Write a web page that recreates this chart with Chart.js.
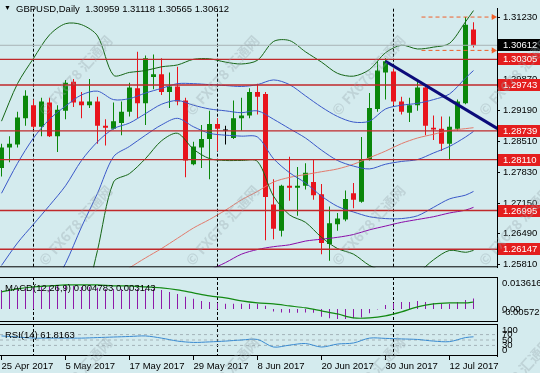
<!DOCTYPE html>
<html>
<head>
<meta charset="utf-8">
<script src="https://cdn.jsdelivr.net/npm/chart.js@4.4.1/dist/chart.umd.min.js"></script>
<style>
  html, body { margin: 0; padding: 0; background: #d4ebee; }
  #wrap { position: relative; width: 540px; height: 373px; overflow: hidden; background: #d4ebee;
          font-family: "Liberation Sans", Arial, sans-serif; }
  canvas { position: absolute; left: 0; }
  .ttl { position: absolute; font-size: 9.5px; line-height: 11px; color: #000; white-space: pre; }
  .wm  { position: absolute; font-family: "Noto Sans CJK SC", sans-serif; font-weight: bold; font-size: 14px;
         color: rgba(150,165,170,0.33); white-space: pre; pointer-events: none;
         transform: translate(-50%, -50%) rotate(-48deg); }
</style>
</head>
<body>
<div id="wrap">
  <canvas id="cMain" width="540" height="276" style="top:0"></canvas>
  <canvas id="cMacd" width="540" height="45" style="top:277px"></canvas>
  <canvas id="cRsi" width="540" height="49" style="top:324px"></canvas>
  <div class="ttl" style="left:4px;top:2px;font-size:7px">▼</div>
  <div class="ttl" style="left:16px;top:2.5px">GBPUSD,Daily  1.30959 1.31118 1.30565 1.30612</div>
  <div class="ttl" style="left:5px;top:281.5px">MACD(12,26,9) 0.004783 0.003143</div>
  <div class="ttl" style="left:5px;top:329px">RSI(14) 61.8163</div>
</div>
<script>
// ─── Velas diarias (índice de barra 0 = 25 Apr 2017) ─────────
const opens  = [1.27926,1.28377,1.28439,1.29013,1.29300,1.28828,1.29362,1.28623,1.29177,1.29813,
                1.29382,1.29300,1.29382,1.28849,1.28787,1.28910,1.29157,1.29669,1.29341,1.29916,
                1.29977,1.29587,1.29710,1.29403,1.28008,1.28377,1.28562,1.28890,1.28746,1.28582,
                1.29013,1.29075,1.29587,1.29546,1.27126,1.26551,1.27536,1.27495,1.27536,1.27618,
                1.27351,1.26264,1.26695,1.26798,1.27372,1.27187,1.28110,1.29218,1.30018,1.30039,
                1.29382,1.29136,1.29300,1.29690,1.28808,1.28787,1.28459,1.28787,1.29341,1.30959];
const highs  = [1.28459,1.28623,1.29157,1.29628,1.29423,1.29464,1.29464,1.29300,1.29854,1.29875,
                1.29587,1.29875,1.29485,1.28993,1.29362,1.29382,1.29793,1.30469,1.30387,1.30408,
                1.30326,1.30018,1.30141,1.29464,1.28500,1.28869,1.29177,1.29013,1.28849,1.29403,
                1.29464,1.29669,1.29772,1.29587,1.27680,1.27557,1.28172,1.27946,1.28028,1.28110,
                1.27577,1.27085,1.26941,1.27434,1.27598,1.28603,1.29567,1.30264,1.30326,1.30100,
                1.29485,1.29464,1.29834,1.29731,1.29075,1.29054,1.29054,1.29423,1.31230,1.31118];
const lows   = [1.27741,1.28049,1.28377,1.28849,1.28787,1.28623,1.28603,1.28275,1.28993,1.29259,
                1.29013,1.29239,1.28459,1.28418,1.28767,1.28644,1.29054,1.29013,1.28869,1.29649,
                1.29526,1.29239,1.29300,1.27721,1.27987,1.27926,1.27680,1.28295,1.28439,1.28562,
                1.28746,1.29013,1.29095,1.26346,1.26367,1.26428,1.27208,1.26880,1.27454,1.27228,
                1.26039,1.25895,1.26551,1.26757,1.27044,1.27167,1.28090,1.29157,1.29423,1.29300,
                1.29095,1.28931,1.29177,1.28644,1.28541,1.28295,1.28110,1.28746,1.29321,1.30565];
const closes = [1.28377,1.28459,1.29033,1.29505,1.28828,1.29382,1.28623,1.29198,1.29793,1.29362,
                1.29300,1.29382,1.28849,1.28808,1.28951,1.29157,1.29690,1.29341,1.30326,1.29977,
                1.29587,1.29710,1.29382,1.28090,1.28398,1.28562,1.28890,1.28787,1.28746,1.29013,
                1.29075,1.29587,1.29485,1.27290,1.26593,1.27536,1.27495,1.27536,1.27823,1.27331,
                1.26285,1.26716,1.26818,1.27249,1.27228,1.28110,1.29239,1.30059,1.30264,1.29382,
                1.29157,1.29300,1.29690,1.28849,1.28767,1.28459,1.28828,1.29382,1.31064,1.30612];

// ─── Indicadores (leídos cada 2 barras) ──────────────────────
const lineIdx = [0,2,4,6,8,10,12,14,16,18,20,22,24,26,28,30,32,34,36,38,40,42,44,46,48,50,52,54,56,58,59];
const bbUp2 = [1.28951,1.29772,1.30326,1.30839,1.31085,1.31064,1.30818,1.29957,1.30018,1.30059,1.30141,
               1.30182,1.30305,1.30316,1.30244,1.30203,1.30285,1.30695,1.30716,1.30469,1.30244,1.29998,
               1.29936,1.30080,1.30449,1.30613,1.30531,1.30572,1.30654,1.31126,1.31372];
const bbUp1 = [1.27372,1.28028,1.28582,1.28993,1.29280,1.29526,1.29608,1.29423,1.29444,1.29567,1.29669,
               1.29772,1.29772,1.29751,1.29731,1.29710,1.29751,1.29854,1.29751,1.29505,1.29259,1.29054,
               1.28931,1.28951,1.29218,1.29300,1.29341,1.29423,1.29546,1.29895,1.30059];
const bbMid = [1.25792,1.26285,1.26695,1.27105,1.27536,1.28090,1.28500,1.28787,1.28910,1.29116,1.29321,
               1.29403,1.29300,1.29218,1.29177,1.29136,1.29177,1.28993,1.28787,1.28582,1.28316,1.28090,
               1.27967,1.27905,1.28008,1.28069,1.28110,1.28254,1.28398,1.28603,1.28726];
const bbLo1 = [null,null,null,1.25218,1.25834,1.26634,1.27372,1.28172,1.28398,1.28644,1.28869,
               1.29013,1.28828,1.28685,1.28644,1.28623,1.28603,1.28131,1.27823,1.27598,1.27310,1.27085,
               1.26962,1.26859,1.26818,1.26818,1.26880,1.27064,1.27249,1.27331,1.27413];
const bbLo2 = [null,null,null,null,null,1.24644,1.26121,1.27618,1.27803,1.28131,1.28521,
               1.28685,1.28336,1.28131,1.28090,1.28090,1.28069,1.27310,1.26900,1.26736,1.26408,1.26162,
               1.26039,1.25792,1.25649,1.25505,1.25628,1.25916,1.26121,1.26080,1.26121];
const maMid  = [null,null,null,null,null,null,null,1.25526,1.25741,1.25957,1.26162,
                1.26387,1.26613,1.26798,1.27003,1.27228,1.27413,1.27618,1.27720,1.27782,1.27844,1.27905,
                1.28008,1.28151,1.28295,1.28459,1.28582,1.28664,1.28746,1.28787,1.28808];
const maLong = [null,null,null,null,null,null,null,null,null,null,null,
                null,null,1.25690,1.25854,1.26039,1.26141,1.26203,1.26244,1.26326,1.26367,1.26408,
                1.26469,1.26572,1.26654,1.26736,1.26798,1.26859,1.26941,1.27003,1.27064];

const macdHist = [0.0086,0.0091,0.0096,0.0100,0.0100,0.0105,0.0105,0.0105,0.0105,0.0105,
                  0.0100,0.0100,0.0096,0.0091,0.0091,0.0091,0.0091,0.0091,0.0091,0.0091,
                  0.0086,0.0077,0.0068,0.0055,0.0046,0.0036,0.0032,0.0027,0.0023,0.0023,
                  0.0023,0.0023,0.0023,0.0014,-0.0012,-0.0016,-0.0018,-0.0018,-0.0016,-0.0018,
                  -0.0036,-0.0043,-0.0046,-0.0046,-0.0043,-0.0039,-0.0020,-0.0003,0.0018,0.0027,
                  0.0032,0.0032,0.0036,0.0032,0.0027,0.0023,0.0023,0.0032,0.0041,0.004783];
const macdSignal = [0.00774,0.00910,0.01001,0.01047,0.01092,0.01092,0.01092,0.01047,0.01047,0.01001,0.00956,
                    0.00865,0.00728,0.00592,0.00501,0.00364,0.00273,0.00228,0.00137,0.00046,-0.00091,-0.00228,
                    -0.00410,-0.00410,-0.00319,-0.00137,0.00091,0.00228,0.00273,0.00273,0.003143];
const rsiVals = [65,61,57,57,57,57,59,61,63,65,57,46,41,43,46,50,52,24,31,37,24,35,39,57,56,54,52,46,44,59,61.8163];

// ─── Objetos del gráfico ─────────────────────────────────────
const levels      = [1.30305, 1.29743, 1.28739, 1.28110, 1.26995, 1.26147];
const lastPrice   = 1.30612;
const priceTicks  = [1.31230, 1.29870, 1.29190, 1.28510, 1.27830, 1.27150, 1.26490, 1.25810];
const trendX      = [48, 62];
const trendY      = [1.30264, 1.28787];
const arrowX      = [52.5, 61.5];
const arrowLevels = [1.31230, 1.30500];
const monthStarts = [4, 27, 49];
const tickIdx     = [0, 8, 16, 24, 32, 40, 48, 56];
const tickText    = ["25 Apr 2017","5 May 2017","17 May 2017","29 May 2017","8 Jun 2017","20 Jun 2017","30 Jun 2017","12 Jul 2017"];
const rsiLevels   = [70, 50, 30];
const macdAxis    = [0.013616, 0, -0.005726];
const macdAxisTxt = ["0.013616", "0.00", "-0.005726"];
const rsiAxis     = [100, 70, 50, 30, 0];

// ─── Estilo ──────────────────────────────────────────────────
const X_MIN = -0.1875, X_MAX = 61.9375;
const AXIS_W = 43;
const FONT = { family: "Liberation Sans", size: 9.5 };
const FONT_CSS = '9.5px "Liberation Sans"';
const BULL = "#0a870a", BEAR = "#e8141c";

Chart.defaults.font.family = "Liberation Sans";
Chart.defaults.color = "#000";

const pts = (xs, ys) => xs.map((x, k) => ({ x, y: ys[k] }));
const candleColor = i => closes[i] > opens[i] ? BULL : closes[i] < opens[i] ? BEAR : "#000";
const flat = (v, color, width, order) => ({
  type: "line", data: [{ x: X_MIN, y: v }, { x: X_MAX, y: v }],
  borderColor: color, borderWidth: width, pointRadius: 0, order
});
const indLine = (arr, color, order = 5) => ({
  type: "line", data: pts(lineIdx, arr), borderColor: color, borderWidth: 1,
  pointRadius: 0, tension: 0.3, order
});

const baseOpts = {
  responsive: false, animation: false, events: [], devicePixelRatio: 1,
  layout: { padding: 0, autoPadding: false },
  plugins: { legend: { display: false }, tooltip: { enabled: false } }
};
const xHidden = { type: "linear", min: X_MIN, max: X_MAX, offset: false, display: false };
const ySide = (min, max) => ({
  position: "right", min, max, afterFit: s => { s.width = AXIS_W; },
  ticks: { display: false }, grid: { display: false }, border: { display: true, color: "#000" }
});

// ─── Plugins ─────────────────────────────────────────────────
function frameLines(sides) {
  return {
    id: "frameLines",
    afterDraw(chart) {
      const { ctx, chartArea: a } = chart;
      ctx.save();
      ctx.strokeStyle = "#000"; ctx.lineWidth = 1;
      ctx.beginPath();
      if (sides.includes("top"))    { ctx.moveTo(0, a.top + 0.5);    ctx.lineTo(a.right, a.top + 0.5); }
      if (sides.includes("bottom")) { ctx.moveTo(0, a.bottom - 0.5); ctx.lineTo(a.right, a.bottom - 0.5); }
      ctx.stroke();
      ctx.restore();
    }
  };
}

const separators = {
  id: "separators",
  beforeDatasetsDraw(chart) {
    const { ctx, chartArea: a, scales: { x } } = chart;
    ctx.save();
    ctx.strokeStyle = "#000"; ctx.lineWidth = 1; ctx.setLineDash([3, 2]);
    monthStarts.forEach(v => {
      const px = Math.floor(x.getPixelForValue(v)) + 0.5;
      ctx.beginPath(); ctx.moveTo(px, a.top); ctx.lineTo(px, a.bottom); ctx.stroke();
    });
    ctx.restore();
  }
};

const priceBoxes = {
  id: "priceBoxes",
  afterDraw(chart) {
    const { ctx, chartArea: a, scales: { y } } = chart;
    ctx.save();
    ctx.font = FONT_CSS; ctx.textBaseline = "middle";
    const box = (v, fill) => {
      const py = Math.round(y.getPixelForValue(v));
      ctx.fillStyle = fill;
      ctx.fillRect(a.right + 1, py - 6, chart.width - a.right - 1, 12);
      ctx.fillStyle = "#fff";
      ctx.fillText(v.toFixed(5), a.right + 6, py + 0.5);
    };
    levels.forEach(v => box(v, "#e41e1e"));
    box(lastPrice, "#000");
    ctx.restore();
  }
};

function sideLabels(vals, texts, mTop, mBot) {
  return {
    id: "sideLabels",
    afterDraw(chart) {
      const { ctx, chartArea: a, scales: { y } } = chart;
      ctx.save();
      ctx.font = FONT_CSS; ctx.fillStyle = "#000"; ctx.textBaseline = "middle";
      vals.forEach((v, k) => {
        const py = Math.min(Math.max(y.getPixelForValue(v), a.top + mTop), a.bottom - mBot);
        ctx.fillText(texts[k], a.right + 5, py);
      });
      ctx.restore();
    }
  };
}

// ─── Panel principal ─────────────────────────────────────────
const mainSets = [
  { label: "wick", data: opens.map((o, i) => ({ x: i, y: [lows[i], highs[i]] })),
    backgroundColor: c => candleColor(c.dataIndex), barThickness: 1, grouped: false, inflateAmount: 0, order: 11 },
  { label: "body", data: opens.map((o, i) => ({ x: i, y: [o, closes[i]] })),
    backgroundColor: c => candleColor(c.dataIndex), barThickness: 5, minBarLength: 1, grouped: false, inflateAmount: 0, order: 10 },
  indLine(bbUp2, "#156515"),
  indLine(bbLo2, "#156515"),
  indLine(bbUp1, "#3a58c8"),
  indLine(bbMid, "#3a58c8"),
  indLine(bbLo1, "#3a58c8"),
  indLine(maMid, "#e27a6c"),
  indLine(maLong, "#8a0ca8"),
  flat(lastPrice, "#a9b3b5", 1, 4),
  ...levels.map(v => flat(v, "#c0282a", 1.3, 3)),
  { type: "line", data: pts(trendX, trendY), borderColor: "#0b0b7a", borderWidth: 3, pointRadius: 0, order: 1 },
  ...arrowLevels.map(v => ({
    type: "line", data: pts(arrowX, [v, v]), borderColor: "#f0602a", borderWidth: 1, borderDash: [4, 3],
    pointStyle: "triangle", pointRotation: 90, pointRadius: [0, 3.5], pointBorderWidth: 0,
    pointBackgroundColor: "#f0602a", order: 0
  }))
];

new Chart(document.getElementById("cMain"), {
  type: "bar",
  data: { datasets: mainSets },
  options: {
    ...baseOpts,
    scales: {
      x: xHidden,
      y: {
        position: "right", min: 1.257515, max: 1.31413,
        afterFit: s => { s.width = AXIS_W; },
        afterBuildTicks: s => { s.ticks = priceTicks.map(v => ({ value: v })); },
        ticks: { callback: v => v.toFixed(5), font: FONT, color: "#000", padding: 3, autoSkip: false },
        grid: { drawOnChartArea: false, tickLength: 3, tickColor: "#000" },
        border: { display: true, color: "#000" }
      }
    }
  },
  plugins: [separators, frameLines(["bottom"]), priceBoxes]
});

// ─── MACD ────────────────────────────────────────────────────
new Chart(document.getElementById("cMacd"), {
  type: "bar",
  data: {
    datasets: [
      { data: macdHist.map((v, i) => ({ x: i, y: v })), backgroundColor: "#8e1aa8",
        barThickness: 1, grouped: false, inflateAmount: 0, order: 2 },
      { type: "line", data: pts(lineIdx, macdSignal), borderColor: "#138a13", borderWidth: 1.2,
        pointRadius: 0, tension: 0.3, order: 1 }
    ]
  },
  options: { ...baseOpts, scales: { x: xHidden, y: ySide(-0.005954, 0.014526) } },
  plugins: [separators, frameLines(["top", "bottom"]), sideLabels(macdAxis, macdAxisTxt, 6, 10)]
});

// ─── RSI ─────────────────────────────────────────────────────
new Chart(document.getElementById("cRsi"), {
  type: "line",
  data: {
    datasets: [
      ...rsiLevels.map(v => ({ ...flat(v, "#a3b3b8", 1, 2), borderDash: [3, 3] })),
      { data: pts(lineIdx, rsiVals), borderColor: "#3a8ad0", borderWidth: 1, pointRadius: 0, tension: 0.3, order: 1 }
    ]
  },
  options: {
    ...baseOpts,
    scales: {
      x: {
        type: "linear", min: X_MIN, max: X_MAX, offset: false, position: "bottom",
        afterBuildTicks: s => { s.ticks = tickIdx.map(v => ({ value: v })); },
        afterFit: s => { s.height = 17; },
        ticks: { callback: (v, k) => tickText[k], align: "start", autoSkip: false, maxRotation: 0, minRotation: 0,
                 padding: 1, font: FONT, color: "#000" },
        grid: { drawOnChartArea: false, tickLength: 4, tickColor: "#000" },
        border: { display: false }
      },
      y: ySide(-9.26, 109.26)
    }
  },
  plugins: [separators, frameLines(["top", "bottom"]), sideLabels(rsiAxis, rsiAxis.map(String), 6, 6)]
});

// ─── Marca de agua ───────────────────────────────────────────
const wrap = document.getElementById("wrap");
[75, 222, 368, 515].forEach(cx => [75, 225, 377].forEach(cy => {
  const d = document.createElement("div");
  d.className = "wm";
  d.style.left = cx + "px";
  d.style.top = cy + "px";
  d.textContent = "© FX678 汇通网";
  wrap.appendChild(d);
}));
</script>
</body>
</html>
